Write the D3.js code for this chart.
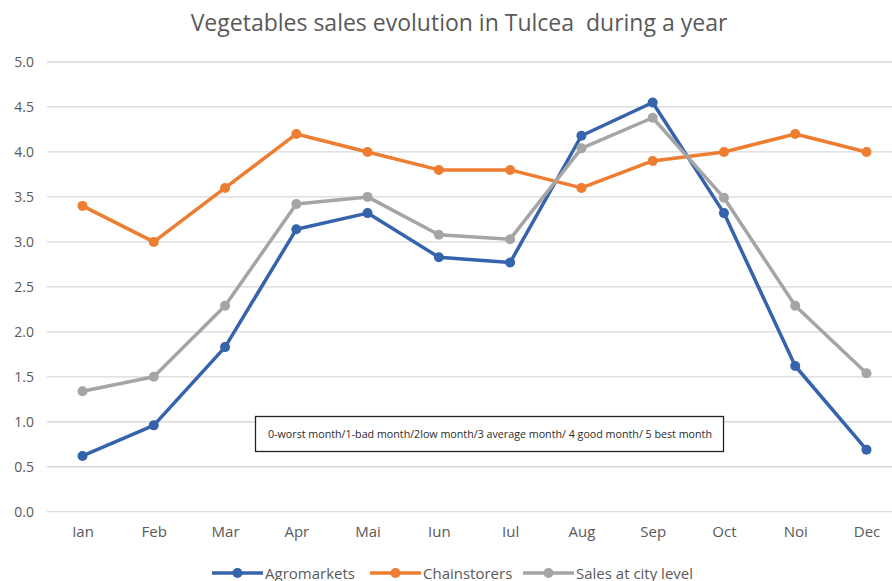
<!DOCTYPE html>
<html>
<head>
<meta charset="utf-8">
<script src="https://cdn.jsdelivr.net/npm/d3@7/dist/d3.min.js"></script>
<style>
  html, body { margin: 0; padding: 0; background: #fff; }
  svg { display: block; font-family: "Open Sans", "Noto Sans", sans-serif; }
</style>
</head>
<body>
<svg id="chart" width="892" height="581"></svg>
<script>
// Months (Romanian abbreviations) and monthly scores, 0 = worst … 5 = best
const months = ["Ian", "Feb", "Mar", "Apr", "Mai", "Iun", "Iul", "Aug", "Sep", "Oct", "Noi", "Dec"];
const agromarkets = [0.62, 0.96, 1.83, 3.14, 3.32, 2.83, 2.77, 4.18, 4.55, 3.32, 1.62, 0.69];
const chainstorers = [3.4, 3.0, 3.6, 4.2, 4.0, 3.8, 3.8, 3.6, 3.9, 4.0, 4.2, 4.0];
const cityLevel = [1.34, 1.50, 2.29, 3.42, 3.50, 3.08, 3.03, 4.04, 4.38, 3.49, 2.29, 1.54];
const yTicks = [0, 0.5, 1, 1.5, 2, 2.5, 3, 3.5, 4, 4.5, 5];
const seriesNames = ["Agromarkets", "Chainstorers", "Sales at city level"];
const seriesColors = ["#3563AC", "#ED7D31", "#A5A5A5"];
const titleText = "Vegetables sales evolution in Tulcea  during a year";
const noteText = "0-worst month/1-bad month/2low month/3 average month/ 4 good month/ 5 best month";

const series = [agromarkets, chainstorers, cityLevel].map((values, i) => ({
  name: seriesNames[i], color: seriesColors[i], values
}));

const svg = d3.select("#chart");
const x = d3.scalePoint().domain(months).range([82.5, 866.5]);
const y = d3.scaleLinear().domain([0, 5]).range([511.7, 62]);
const fontStack = "'Open Sans', 'Noto Sans', sans-serif";

// Title
svg.append("text")
  .attr("x", 459).attr("y", 31)
  .attr("text-anchor", "middle")
  .attr("fill", "#595959")
  .style("font-size", "23px")
  .style("white-space", "pre")
  .text(titleText);

// Horizontal gridlines
svg.append("g").selectAll("line").data(yTicks).join("line")
  .attr("x1", 47).attr("x2", 892)
  .attr("y1", d => y(d)).attr("y2", d => y(d))
  .attr("stroke", "#d9d9d9").attr("stroke-width", 1.3);

// Y axis labels
const yAxis = d3.axisLeft(y).tickValues(yTicks).tickFormat(d3.format(".1f")).tickSize(0).tickPadding(0);
svg.append("g").attr("transform", "translate(34,0)").call(yAxis)
  .call(g => g.select(".domain").remove())
  .call(g => g.selectAll("text").attr("fill", "#595959").style("font-size", "14px")
    .style("font-family", fontStack));

// X axis labels
const xAxis = d3.axisBottom(x).tickSize(0).tickPadding(0);
svg.append("g").attr("transform", "translate(0,526)").call(xAxis)
  .call(g => g.select(".domain").remove())
  .call(g => g.selectAll("text").attr("fill", "#595959").style("font-size", "15px")
    .style("font-family", fontStack));

// Note box with the rating scale
svg.append("rect")
  .attr("x", 255.5).attr("y", 416.5).attr("width", 468).attr("height", 35)
  .attr("fill", "#fff").attr("stroke", "#222").attr("stroke-width", 1.3);
svg.append("text")
  .attr("x", 268).attr("y", 437.5)
  .attr("fill", "#2b2b2b")
  .attr("textLength", 444).attr("lengthAdjust", "spacingAndGlyphs")
  .style("font-size", "10.5px")
  .text(noteText);

// Lines and markers
const line = d3.line().x((d, i) => x(months[i])).y(d => y(d));
const groups = svg.append("g").selectAll("g").data(series).join("g");
groups.append("path")
  .attr("d", d => line(d.values))
  .attr("fill", "none").attr("stroke", d => d.color)
  .attr("stroke-width", 3.5).attr("stroke-linejoin", "round");
groups.selectAll("circle").data(d => d.values.map(v => ({ v, color: d.color })))
  .join("circle")
  .attr("cx", (d, i) => x(months[i])).attr("cy", d => y(d.v))
  .attr("r", 5).attr("fill", d => d.color);

// Legend
const legendX = [212, 370, 523];
const legend = svg.append("g").selectAll("g").data(series).join("g")
  .attr("transform", (d, i) => `translate(${legendX[i]},573)`);
legend.append("line").attr("x1", 0).attr("x2", 51).attr("y1", 0).attr("y2", 0)
  .attr("stroke", d => d.color).attr("stroke-width", 3.5);
legend.append("circle").attr("cx", 25.5).attr("cy", 0).attr("r", 5).attr("fill", d => d.color);
legend.append("text").attr("x", 53).attr("y", 5.5)
  .attr("fill", "#595959").style("font-size", "15px")
  .text(d => d.name);
</script>
</body>
</html>
